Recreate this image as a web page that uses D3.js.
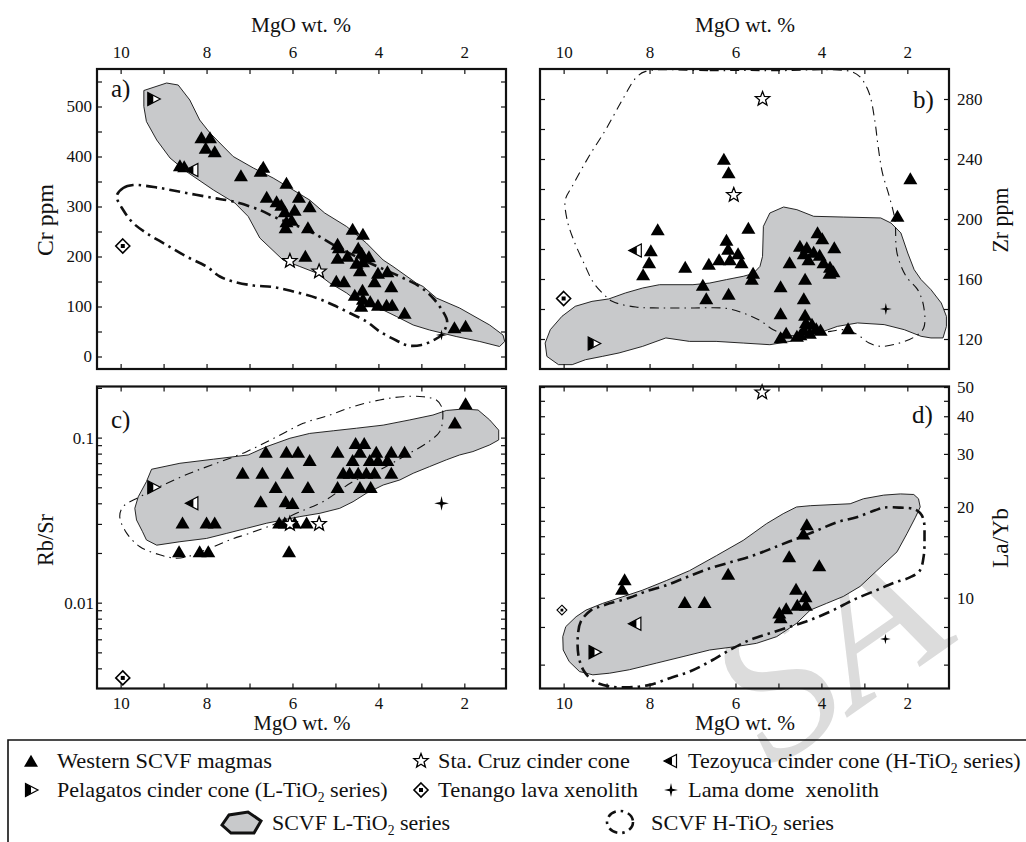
<!DOCTYPE html>
<html><head><meta charset="utf-8">
<script src="https://cdn.jsdelivr.net/npm/d3@7"></script>
<style>html,body{margin:0;padding:0;background:#fff;} svg{display:block;}
svg text{font-family:'Liberation Serif','DejaVu Serif','Times New Roman',serif;}</style>
</head><body>
<svg id="chart" width="1026" height="842"></svg>
<script>
// ---------------- DATA ----------------
// x = MgO wt.%, common to all panels
const mgoTicks = [10, 9, 8, 7, 6, 5, 4, 3, 2];
const mgoLabels = [10, 8, 6, 4, 2];

// Panel a: Cr ppm
const crTicks = [0, 50, 100, 150, 200, 250, 300, 350, 400, 450, 500, 550];
const crLabels = [0, 100, 200, 300, 400, 500];
const aWestern = [[8.12,438],[7.92,438],[8.02,417],[7.81,410],[8.62,382],[8.52,380],[7.2,362],[6.68,379],[6.74,371],[6.6,319],[6.14,347],[5.85,319],[5.6,300],[6.37,310],[6.26,303],[6.18,290],[5.95,293],[6.14,270],[6.02,273],[6.16,258],[5.64,258],[5.7,201],[4.6,255],[4.36,245],[4.95,225],[4.92,218],[4.72,201],[4.95,197],[4.47,217],[4.39,207],[4.22,200],[4.51,187],[4.36,190],[4.43,172],[4.01,167],[3.79,170],[4.09,150],[3.7,140],[4.98,151],[4.8,150],[4.55,123],[4.37,133],[4.36,115],[4.4,101],[4.19,110],[4.01,103],[3.81,103],[3.68,103],[3.39,87],[2.23,58],[1.97,61]];
const aPelagatos = [[9.24,515]];
const aTezoyuca = [[8.33,373]];
const aStaCruz = [[6.06,191],[5.38,170]];
const aTenango = [[9.95,221]];
const aLama = [[2.53,43]];
const aLTiO2 = [[9.46,532],[8.93,547],[8.66,543],[8.39,513],[8.16,473],[7.92,447],[7.69,427],[7.38,400],[6.91,377],[6.45,357],[6.06,337],[5.6,313],[5.25,287],[4.74,260],[4.28,227],[3.89,193],[3.66,180],[3.12,147],[2.96,140],[2.65,117],[2.11,97],[1.41,63],[1.1,43],[1.06,30],[1.18,20],[1.64,30],[2.19,40],[2.81,53],[3.19,63],[3.58,80],[3.89,93],[4.28,103],[4.59,117],[4.74,127],[5.13,147],[5.44,167],[5.83,180],[6.22,193],[6.76,237],[7.03,280],[7.34,307],[7.84,333],[8.47,370],[8.85,397],[9.16,433],[9.4,470],[9.46,500]];
const aHTiO2 = [[10.09,321],[9.94,337],[9.71,343],[9.09,337],[8.47,327],[7.84,317],[7.38,310],[6.76,293],[6.37,277],[6.06,267],[5.52,247],[4.98,220],[4.28,190],[3.5,160],[3.04,140],[2.73,117],[2.5,90],[2.4,70],[2.53,43],[2.73,32],[3.0,23],[3.31,22],[3.58,32],[3.97,50],[4.28,70],[4.67,87],[5.05,103],[5.44,117],[5.98,130],[6.45,139],[6.91,142],[7.38,150],[7.69,160],[8.0,180],[8.47,200],[8.93,223],[9.4,247],[9.71,267],[9.94,293]];

// Panel b: Zr ppm
const zrTicks = [120, 140, 160, 180, 200, 220, 240, 260, 280];
const zrLabels = [120, 160, 200, 240, 280];
const bWestern = [[6.27,240],[6.16,231],[7.81,193],[7.97,179],[8.01,171],[8.15,163],[7.17,168],[6.62,170],[6.38,173],[6.21,186],[6.17,180],[6.13,173],[5.94,177],[5.86,171],[5.7,194],[5.59,164],[5.62,160],[6.76,156],[6.68,147],[6.16,150],[4.95,155],[4.95,137],[4.95,121],[4.82,124],[4.74,171],[4.5,182],[4.41,177],[4.34,181],[4.3,173],[4.18,178],[4.09,191],[3.98,187],[4.04,176],[3.95,171],[3.8,168],[3.72,165],[3.7,181],[3.81,164],[4.38,160],[4.41,147],[4.38,136],[4.36,131],[4.22,130],[4.12,127],[4.02,126],[4.41,126],[4.49,123],[4.27,124],[4.57,122],[3.38,127],[2.23,202],[1.93,227]];
const bPelagatos = [[9.3,117]];
const bTezoyuca = [[8.32,179]];
const bStaCruz = [[5.37,280],[6.04,216]];
const bTenango = [[10.0,147]];
const bLama = [[2.5,140]];
const bLTiO2 = [[10.43,117.3],[10.31,126.2],[10.04,135.1],[9.73,141.8],[9.34,145.1],[8.95,146.7],[8.56,150.7],[8.16,154],[7.77,156.2],[6.99,156.2],[6.6,157.3],[6.21,159.6],[5.82,161.8],[5.59,163.6],[5.43,168.4],[5.37,175.1],[5.35,195.1],[5.2,204],[4.88,208],[4.57,206.2],[4.18,201.8],[3.48,201.3],[2.62,200.7],[2.38,197.3],[2.15,190.7],[1.99,177.3],[1.84,166.2],[1.68,159.6],[1.45,152.9],[1.21,144],[1.09,135.1],[1.09,128.4],[1.17,120.7],[1.45,120.7],[1.68,121.8],[2.07,126.2],[2.54,129.6],[3.16,130.7],[3.63,128.4],[3.95,125.1],[4.41,121.8],[4.73,118.4],[5.2,116.2],[5.82,117.3],[6.45,118.4],[7.07,118.4],[7.62,120.7],[8.16,115.1],[8.71,110.7],[9.1,108.4],[9.49,106.2],[9.8,102.9],[10.12,102.9],[10.39,108.4]];
const bHTiO2 = [[8.09,298.4],[6.6,298.9],[5.04,298.9],[3.32,298.4],[3.1,294.7],[2.89,284],[2.76,266.2],[2.68,248.4],[2.58,230.7],[2.42,215.1],[2.29,199.6],[2.24,177.3],[2.03,161.8],[1.76,152.9],[1.62,141.8],[1.62,127.3],[1.84,121.3],[2.23,116.9],[2.62,115.1],[2.89,117.3],[3.16,122.9],[3.48,126.2],[3.79,125.1],[4.26,124],[4.73,122.2],[5.12,126.2],[5.43,132.4],[5.82,137.3],[6.21,140.4],[6.99,140.7],[7.77,140.7],[8.32,141.3],[8.87,145.1],[9.06,149.6],[9.3,157.3],[9.53,170.7],[9.77,186.2],[9.92,199.6],[9.96,212.9],[9.8,221.8],[9.41,241.8],[9.02,259.6],[8.63,279.6],[8.32,294]];

// Panel c: Rb/Sr (log)
const rbsrTicks = [0.004,0.005,0.006,0.007,0.008,0.009,0.01,0.02,0.03,0.04,0.05,0.06,0.07,0.08,0.09,0.1,0.2];
const rbsrLabels = ["0.01", "0.1"];
const cWestern = [[1.97,0.161],[2.22,0.123],[6.62,0.082],[6.14,0.082],[5.87,0.082],[5.6,0.073],[7.16,0.061],[6.7,0.061],[6.12,0.061],[6.39,0.050],[5.64,0.050],[6.74,0.041],[6.16,0.041],[6.0,0.040],[8.56,0.0305],[8.0,0.0305],[7.81,0.0305],[6.31,0.0305],[6.18,0.0305],[5.95,0.0305],[5.67,0.0305],[8.64,0.0204],[8.16,0.0204],[7.96,0.0204],[6.08,0.0204],[4.95,0.082],[4.53,0.0924],[4.33,0.0924],[4.43,0.082],[4.05,0.082],[3.7,0.082],[3.39,0.082],[4.6,0.073],[4.2,0.073],[4.01,0.073],[3.79,0.073],[4.82,0.061],[4.67,0.061],[4.47,0.061],[4.28,0.061],[4.09,0.061],[3.7,0.061],[4.95,0.050],[4.43,0.050],[4.18,0.050]];
const cPelagatos = [[9.24,0.050]];
const cTezoyuca = [[8.33,0.040]];
const cStaCruz = [[6.06,0.030],[5.38,0.030]];
const cTenango = [[9.95,0.0035]];
const cLama = [[2.53,0.040]];
const cLTiO2 = [[9.28,0.0643],[8.62,0.0699],[7.84,0.074],[7.03,0.0785],[6.6,0.0882],[6.06,0.0991],[5.6,0.106],[5.05,0.11],[4.51,0.114],[3.89,0.119],[3.27,0.128],[2.73,0.137],[2.42,0.146],[2.03,0.149],[1.68,0.147],[1.41,0.128],[1.2,0.111],[1.2,0.0968],[1.41,0.0903],[1.8,0.0823],[2.11,0.0785],[2.42,0.0733],[2.81,0.0667],[3.19,0.0608],[3.5,0.0554],[3.89,0.0516],[4.28,0.046],[4.59,0.0409],[4.9,0.0373],[5.36,0.0348],[5.83,0.0332],[6.22,0.0317],[6.6,0.0303],[7.07,0.0282],[7.53,0.0263],[8.0,0.0245],[8.62,0.0234],[9.16,0.0223],[9.4,0.024],[9.49,0.0269],[9.63,0.0317],[9.67,0.0373],[9.59,0.0438],[9.4,0.0541]];
const cHTiO2 = [[2.5,0.134],[2.53,0.154],[2.65,0.169],[2.96,0.177],[3.43,0.177],[3.97,0.169],[4.59,0.154],[5.13,0.137],[5.75,0.122],[6.37,0.101],[7.07,0.0822],[7.77,0.070],[8.39,0.0608],[9.01,0.0516],[9.55,0.0438],[9.94,0.0382],[10.02,0.0332],[9.86,0.0264],[9.55,0.0218],[9.09,0.0195],[8.7,0.0186],[8.39,0.0192],[7.92,0.0214],[7.46,0.024],[6.99,0.0264],[6.37,0.0303],[5.91,0.0348],[5.29,0.0409],[4.59,0.0541],[3.97,0.0637],[3.35,0.0785],[2.88,0.0925],[2.57,0.109]];

// Panel d: La/Yb (log)
const laybTicks = [6, 8, 10, 12, 14, 16, 18, 20, 25, 30, 35, 40, 45, 50];
const laybLabels = [10, 20, 30, 40, 50];
const dWestern = [[4.34,17.5],[4.42,16.3],[4.75,13.7],[4.05,12.8],[6.17,12.0],[8.58,11.5],[8.64,10.7],[4.59,10.7],[4.37,10.1],[7.18,9.66],[6.72,9.66],[4.56,9.46],[4.36,9.46],[4.82,9.22],[4.98,8.92],[4.95,8.61]];
const dPelagatos = [[9.28,6.6]];
const dTezoyuca = [[8.33,8.2]];
const dStaCruz = [[5.38,48]];
const dTenango = [[10.04,9.1]];
const dLama = [[2.51,7.3]];
const dLTiO2 = [[10.02,7.43],[9.95,8.02],[9.71,8.65],[9.48,9.1],[9.09,9.58],[8.62,10.08],[8.16,10.6],[7.61,11.4],[7.07,12.3],[6.44,13.8],[5.82,15.5],[5.28,17.6],[4.89,19.0],[4.58,20.0],[4.26,20.2],[3.33,20.5],[3.02,21.3],[2.55,21.9],[2.16,22.1],[1.85,22.0],[1.74,21.3],[1.7,20.0],[1.81,18.5],[2.01,16.3],[2.24,14.2],[2.71,12.3],[3.1,10.9],[3.49,10.1],[3.88,9.58],[4.26,9.1],[4.58,8.22],[5.04,7.43],[5.51,7.06],[5.98,6.89],[6.6,6.71],[7.22,6.38],[7.84,6.07],[8.47,5.77],[8.93,5.62],[9.32,5.55],[9.63,5.69],[9.87,6.14],[10.01,6.71]];
const dHTiO2 = [[9.36,9.1],[9.6,8.34],[9.67,7.43],[9.65,6.38],[9.52,5.69],[9.28,5.27],[8.93,5.08],[8.47,5.05],[8.0,5.14],[7.53,5.41],[7.07,5.69],[6.6,6.14],[6.13,6.71],[5.67,7.24],[5.2,7.62],[4.73,8.02],[4.26,8.44],[3.8,8.99],[3.49,9.46],[3.18,9.95],[2.71,10.6],[2.32,11.2],[1.93,11.7],[1.71,12.3],[1.62,13.7],[1.6,15.9],[1.62,18.1],[1.7,19.1],[1.85,19.7],[2.16,19.9],[2.55,19.9],[2.75,19.5],[3.18,18.5],[3.64,17.8],[4.11,16.7],[4.58,15.7],[5.04,14.8],[5.59,13.8],[6.13,13.1],[6.68,12.4],[7.14,11.7],[7.61,11.0],[8.08,10.5],[8.47,10.0],[8.93,9.58],[9.21,9.29]];

// legend entries
const legendRows = [
  {sym: "tri", label: "Western SCVF magmas"},
  {sym: "star", label: "Sta. Cruz cinder cone"},
  {sym: "tez", label: "Tezoyuca cinder cone (H-TiO|2| series)"},
  {sym: "pel", label: "Pelagatos cinder cone (L-TiO|2| series)"},
  {sym: "diamond", label: "Tenango lava xenolith"},
  {sym: "lama", label: "Lama dome\u00a0 xenolith"},
  {sym: "lpoly", label: "SCVF L-TiO|2| series"},
  {sym: "hpoly", label: "SCVF H-TiO|2| series"}
];

// ---------------- DRAWING ----------------
const FONT = "'Liberation Serif','DejaVu Serif',serif";
const GRAY = "#c8c9cb";
const svg = d3.select("#chart");

// watermark (light gray)
svg.append("text").attr("transform", "translate(772,770) rotate(-35)")
  .attr("font-family", FONT).attr("font-style", "italic").attr("font-size", 205)
  .attr("fill", "#dcdcdc").text("SA");

const X0 = [97, 506], X1 = [540, 949];
const Y0 = [369, 69], Y1 = [688.5, 386.5];
const xDom = [10.55, 1.03];

const xa = d3.scaleLinear().domain(xDom).range(X0);
const xb = d3.scaleLinear().domain(xDom).range(X1);
const ya = d3.scaleLinear().domain([-25, 575]).range(Y0);
const yb = d3.scaleLinear().domain([100, 300]).range(Y0);
const yc = d3.scaleLog().domain([0.00302, 0.204]).range(Y1);
const yd = d3.scaleLog().domain([5, 50.2]).range(Y1);

function styleAxis(ax, fs) {
  ax.attr("font-family", FONT);
  ax.select(".domain").remove();
  ax.selectAll("text").attr("font-family", FONT).attr("font-size", fs || 17).attr("fill", "#111");
  ax.selectAll("line").attr("stroke", "#111").attr("stroke-width", 1.2);
}
function addAxis(gen, scale, vals, fmt, tx, ty, pad) {
  const a = gen(scale).tickValues(vals).tickSize(-5).tickPadding(pad).tickFormat(fmt);
  const g = svg.append("g").attr("transform", `translate(${tx},${ty})`).call(a);
  styleAxis(g);
  return g;
}
const none = () => "";
const fmtMgo = v => mgoLabels.includes(v) ? String(v) : "";

function lineGen(x, y, closedSmooth) {
  return d3.line().x(d => x(d[0])).y(d => y(d[1]))
    .curve(closedSmooth ? d3.curveCatmullRomClosed.alpha(0.5) : d3.curveLinearClosed);
}

function marker(g, type, cx, cy, s) {
  s = s || 1;
  const t = `translate(${cx},${cy}) scale(${s})`;
  if (type === "tri") {
    g.append("path").attr("transform", t).attr("d", "M0,-6.2L7,5.8L-7,5.8Z").attr("fill", "#000");
  } else if (type === "pel") {
    g.append("path").attr("transform", t).attr("d", "M-5.5,-6.5L7,0L-5.5,6.5Z").attr("fill", "#fff").attr("stroke", "#000").attr("stroke-width", 1.2);
    g.append("path").attr("transform", t).attr("d", "M-5.5,-6.5L0,-3.6L0,3.6L-5.5,6.5Z").attr("fill", "#000");
  } else if (type === "tez") {
    g.append("path").attr("transform", t).attr("d", "M-7,0L5.5,-6.5L5.5,6.5Z").attr("fill", "#fff").attr("stroke", "#000").attr("stroke-width", 1.2);
    g.append("path").attr("transform", t).attr("d", "M-7,0L1,-4.2L1,4.2Z").attr("fill", "#000");
  } else if (type === "star") {
    let p = [];
    for (let i = 0; i < 10; i++) {
      const r = i % 2 === 0 ? 7.5 : 3.2;
      const a = -Math.PI / 2 + i * Math.PI / 5;
      p.push([r * Math.cos(a), r * Math.sin(a)]);
    }
    g.append("path").attr("transform", t).attr("d", "M" + p.join("L") + "Z").attr("fill", "#fff").attr("stroke", "#000").attr("stroke-width", 1.3);
  } else if (type === "diamond") {
    g.append("path").attr("transform", t).attr("d", "M0,-7L7,0L0,7L-7,0Z").attr("fill", "#fff").attr("stroke", "#000").attr("stroke-width", 1.6);
    g.append("rect").attr("transform", t).attr("x", -2).attr("y", -2).attr("width", 4).attr("height", 4).attr("fill", "#000");
  } else if (type === "lama") {
    let p = [];
    for (let i = 0; i < 8; i++) {
      const r = i % 2 === 0 ? 7 : 1.8;
      const a = -Math.PI / 2 + i * Math.PI / 4;
      p.push([r * Math.cos(a), r * Math.sin(a)]);
    }
    g.append("path").attr("transform", t).attr("d", "M" + p.join("L") + "Z").attr("fill", "#000");
  }
}

function drawPanel(p) {
  const g = svg.append("g");
  g.append("path").attr("d", lineGen(p.x, p.y, false)(p.L))
    .attr("fill", GRAY).attr("stroke", "#111").attr("stroke-width", 0.9);
  g.append("path").attr("d", lineGen(p.x, p.y, true)(p.H))
    .attr("fill", "none").attr("stroke", "#111").attr("stroke-width", p.hw)
    .attr("stroke-dasharray", p.hdash);
  p.W.forEach(d => marker(g, "tri", p.x(d[0]), p.y(d[1]), p.ts || 1));
  p.pel.forEach(d => marker(g, "pel", p.x(d[0]), p.y(d[1]), p.ms || 1));
  p.tez.forEach(d => marker(g, "tez", p.x(d[0]), p.y(d[1]), p.ms || 1));
  p.star.forEach(d => marker(g, "star", p.x(d[0]), p.y(d[1]), p.ss || 1));
  p.dia.forEach(d => marker(g, "diamond", p.x(d[0]), p.y(d[1]), p.ds || 1));
  p.lama.forEach(d => marker(g, "lama", p.x(d[0]), p.y(d[1]), p.ls || 1));
  const xr = p.x.range(), yr = p.y.range();
  svg.append("rect").attr("x", xr[0]).attr("y", yr[1]).attr("width", xr[1] - xr[0]).attr("height", yr[0] - yr[1])
    .attr("fill", "none").attr("stroke", "#111").attr("stroke-width", 2.2);
  svg.append("text").attr("x", p.lab[1]).attr("y", p.lab[2]).attr("font-family", FONT).attr("font-size", 25)
    .attr("fill", "#111").text(p.lab[0]);
}

// Panel a
drawPanel({x: xa, y: ya, L: aLTiO2, H: aHTiO2, hw: 2.6, hdash: "11,5,2.5,5", W: aWestern,
  pel: aPelagatos, tez: aTezoyuca, star: aStaCruz, dia: aTenango, lama: aLama, ls: 0.8, lab: ["a)", 111, 97]});
addAxis(d3.axisTop, xa, mgoTicks, fmtMgo, 0, 69, 11);
addAxis(d3.axisBottom, xa, mgoTicks, none, 0, 369, 6);
addAxis(d3.axisLeft, ya, crTicks, v => crLabels.includes(v) ? String(v) : "", 97, 0, 5);
addAxis(d3.axisRight, ya, crTicks, none, 506, 0, 5);

// Panel b
drawPanel({x: xb, y: yb, L: bLTiO2, H: bHTiO2, hw: 1.1, hdash: "9,5,1.5,5", W: bWestern,
  pel: bPelagatos, tez: bTezoyuca, star: bStaCruz, dia: bTenango, lama: bLama, ls: 0.85, lab: ["b)", 913, 108]});
addAxis(d3.axisTop, xb, mgoTicks, fmtMgo, 0, 69, 11);
addAxis(d3.axisBottom, xb, mgoTicks, none, 0, 369, 6);
addAxis(d3.axisLeft, yb, zrTicks, none, 540, 0, 5);
addAxis(d3.axisRight, yb, zrTicks, v => zrLabels.includes(v) ? String(v) : "", 949, 0, 8);

// Panel c
drawPanel({x: xa, y: yc, L: cLTiO2, H: cHTiO2, hw: 1.1, hdash: "9,5,1.5,5", W: cWestern,
  pel: cPelagatos, tez: cTezoyuca, star: cStaCruz, dia: cTenango, lama: cLama, ls: 1.05, lab: ["c)", 111, 428]});
addAxis(d3.axisTop, xa, mgoTicks, none, 0, 386.5, 6);
addAxis(d3.axisBottom, xa, mgoTicks, fmtMgo, 0, 688.5, 8);
addAxis(d3.axisLeft, yc, rbsrTicks, v => (v === 0.1 ? rbsrLabels[1] : v === 0.01 ? rbsrLabels[0] : ""), 97, 0, 3);
addAxis(d3.axisRight, yc, rbsrTicks, none, 506, 0, 5);

// Panel d
drawPanel({x: xb, y: yd, L: dLTiO2, H: dHTiO2, hw: 2.6, hdash: "11,5,2.5,5", W: dWestern,
  pel: dPelagatos, tez: dTezoyuca, star: dStaCruz, dia: dTenango, lama: dLama, ds: 0.7, ls: 0.75, lab: ["d)", 912, 423]});
addAxis(d3.axisTop, xb, mgoTicks, none, 0, 386.5, 6);
addAxis(d3.axisBottom, xb, mgoTicks, fmtMgo, 0, 688.5, 8);
addAxis(d3.axisLeft, yd, laybTicks, none, 540, 0, 5);
addAxis(d3.axisRight, yd, laybTicks, v => laybLabels.includes(v) ? String(v) : "", 949, 0, 8);

function fitText(x, y, w, fs, str, anchorMid, rot) {
  const t = svg.append("text").attr("font-family", FONT).attr("font-size", fs).attr("fill", "#111");
  const parts = str.split("|");
  parts.forEach((s, i) => {
    const ts = t.append("tspan").text(s);
    if (i % 2 === 1) ts.attr("font-size", fs * 0.62).attr("dy", fs * 0.22);
    else if (i > 0) ts.attr("dy", -fs * 0.22);
  });
  const L = t.node().getComputedTextLength();
  const k = w ? w / L : 1;
  if (anchorMid) t.attr("text-anchor", "middle");
  t.attr("transform", `translate(${x},${y})` + (rot ? ` rotate(${rot})` : "") + ` scale(${k},1)`);
  return t;
}

fitText(301, 32, 100, 20, "MgO wt. %", true);
fitText(745, 32, 100, 20, "MgO wt. %", true);
fitText(302, 730, 97, 20, "MgO wt. %", true);
fitText(745, 730, 100, 20, "MgO wt. %", true);
fitText(53, 220, 72, 23, "Cr ppm", true, -90);
fitText(53, 540, 52, 23, "Rb/Sr", true, -90);
fitText(1008, 220, 65, 23, "Zr ppm", true, -90);
fitText(1008, 538, 60, 23, "La/Yb", true, -90);

svg.append("path").attr("d", "M8,842V740H1026").attr("fill", "none").attr("stroke", "#111").attr("stroke-width", 1.6);
const lg = svg.append("g");
const legPos = [
  [31, 761, 57, 215], [421, 761, 438, 192], [671, 761, 688, 333],
  [31, 790, 57, 331], [421, 790, 438, 200], [671, 790, 688, 191],
  [241, 823, 272, 178], [620, 823, 651, 183]
];
legendRows.forEach((r, i) => {
  const [ix, iy, tx, tw] = legPos[i];
  if (r.sym === "lpoly") {
    lg.append("path").attr("transform", `translate(${ix},${iy})`)
      .attr("d", "M-19,2L-12,-8L7,-11L20,-2L13,10L-10,10Z").attr("fill", GRAY).attr("stroke", "#111").attr("stroke-width", 3);
  } else if (r.sym === "hpoly") {
    lg.append("ellipse").attr("cx", ix).attr("cy", iy - 1).attr("rx", 13).attr("ry", 11)
      .attr("fill", "none").attr("stroke", "#111").attr("stroke-width", 2.6).attr("stroke-dasharray", "9,5,2.5,5");
  } else {
    marker(lg, r.sym, ix, iy, 1);
  }
  fitText(tx, iy + 7, tw, 22, r.label, false);
});
</script></body></html>
